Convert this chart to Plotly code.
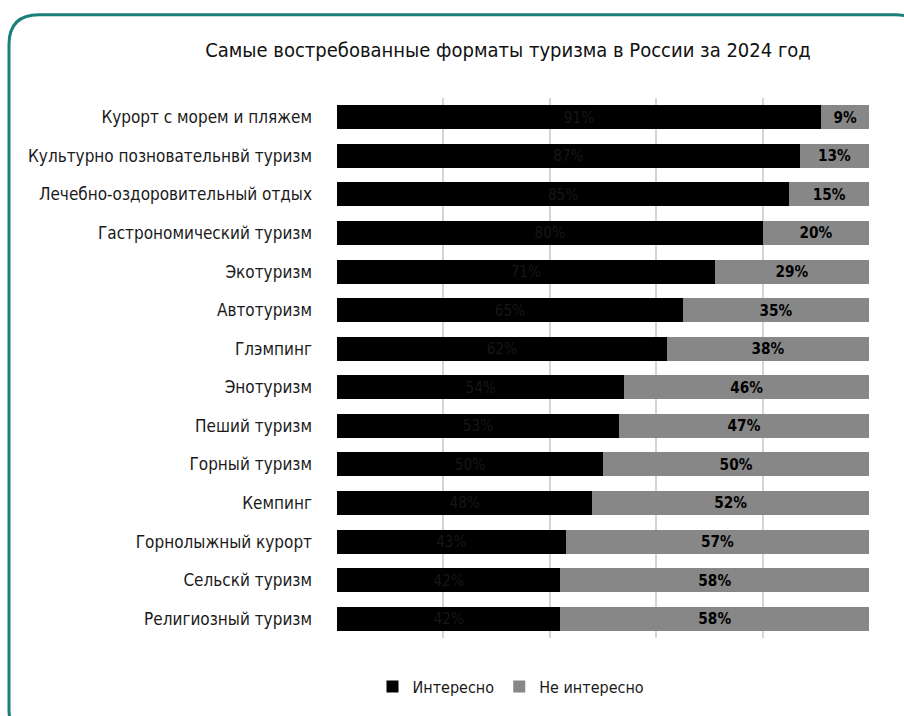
import plotly.graph_objects as go

# Tourism formats and share of respondents (percent)
categories = [
    "Курорт с морем и пляжем",
    "Культурно позновательнвй туризм",
    "Лечебно-оздоровительный отдых",
    "Гастрономический туризм",
    "Экотуризм",
    "Автотуризм",
    "Глэмпинг",
    "Энотуризм",
    "Пеший туризм",
    "Горный туризм",
    "Кемпинг",
    "Горнолыжный курорт",
    "Сельскй туризм",
    "Религиозный туризм",
]
interested = [91, 87, 85, 80, 71, 65, 62, 54, 53, 50, 48, 43, 42, 42]
not_interested = [9, 13, 15, 20, 29, 35, 38, 46, 47, 50, 52, 57, 58, 58]
x_ticks = [0, 20, 40, 60, 80, 100]

FONT = "DejaVu Sans Condensed, Liberation Sans Narrow, Arial Narrow, sans-serif"

W, H = 904, 716
PL, PR, PT, PB = 337, 869, 98, 643  # plot area in pixels


def px(x):
    return (x - PL) / (PR - PL)


def py(y):
    return (PB - y) / (PB - PT)


fig = go.Figure()
fig.add_trace(go.Bar(
    y=categories, x=interested, orientation="h", name="Интересно",
    marker=dict(color="#000000", line=dict(width=0)),
    text=[f"{v}%" for v in interested], textposition="inside",
    insidetextanchor="middle", textangle=0,
    textfont=dict(family=FONT, size=17, color="#161616"),
))
fig.add_trace(go.Bar(
    y=categories, x=not_interested, orientation="h", name="Не интересно",
    marker=dict(color="#878787", line=dict(width=0)),
    text=[f"<b>{v}%</b>" for v in not_interested], textposition="inside",
    insidetextanchor="middle", textangle=0,
    textfont=dict(family=FONT, size=17, color="#000000"),
))

# Rounded teal frame around the chart (runs off the right and bottom edges)
x0, y0, x1, y1, r = 9, 14, 925, 745, 30
path = (
    f"M {px(x0)},{py(y0 + r)} "
    f"Q {px(x0)},{py(y0)} {px(x0 + r)},{py(y0)} "
    f"L {px(x1 - r)},{py(y0)} "
    f"Q {px(x1)},{py(y0)} {px(x1)},{py(y0 + r)} "
    f"L {px(x1)},{py(y1 - r)} "
    f"Q {px(x1)},{py(y1)} {px(x1 - r)},{py(y1)} "
    f"L {px(x0 + r)},{py(y1)} "
    f"Q {px(x0)},{py(y1)} {px(x0)},{py(y1 - r)} Z"
)
fig.add_shape(type="path", path=path, xref="paper", yref="paper",
              line=dict(color="#1b7f79", width=3), fillcolor="rgba(0,0,0,0)",
              layer="above")

fig.update_layout(
    width=W, height=H,
    barmode="stack", bargap=0.38,
    margin=dict(l=PL, r=W - PR, t=PT, b=H - PB),
    paper_bgcolor="white", plot_bgcolor="white",
    font=dict(family=FONT, color="#1a1a1a"),
    title=dict(
        text="Самые востребованные форматы туризма в России за 2024 год",
        x=508 / W, xanchor="center", xref="container",
        y=1 - 50 / H, yanchor="middle", yref="container",
        font=dict(family=FONT, size=20, color="#111111"),
    ),
    xaxis=dict(
        range=[0, 100], tickvals=x_ticks, showticklabels=False,
        showgrid=True, gridcolor="#d4d4d4", gridwidth=2,
        zeroline=False, showline=False, fixedrange=True,
    ),
    yaxis=dict(
        autorange="reversed", ticks="", ticklabelstandoff=24,
        tickfont=dict(family=FONT, size=17, color="#1a1a1a"),
        showgrid=False, zeroline=False, showline=False,
    ),
    legend=dict(
        orientation="h", x=px(511), xanchor="center",
        y=py(692), yanchor="middle",
        font=dict(family=FONT, size=16, color="#1a1a1a"),
        itemwidth=30, traceorder="normal",
    ),
    showlegend=True,
)

fig.write_html("out.html")
